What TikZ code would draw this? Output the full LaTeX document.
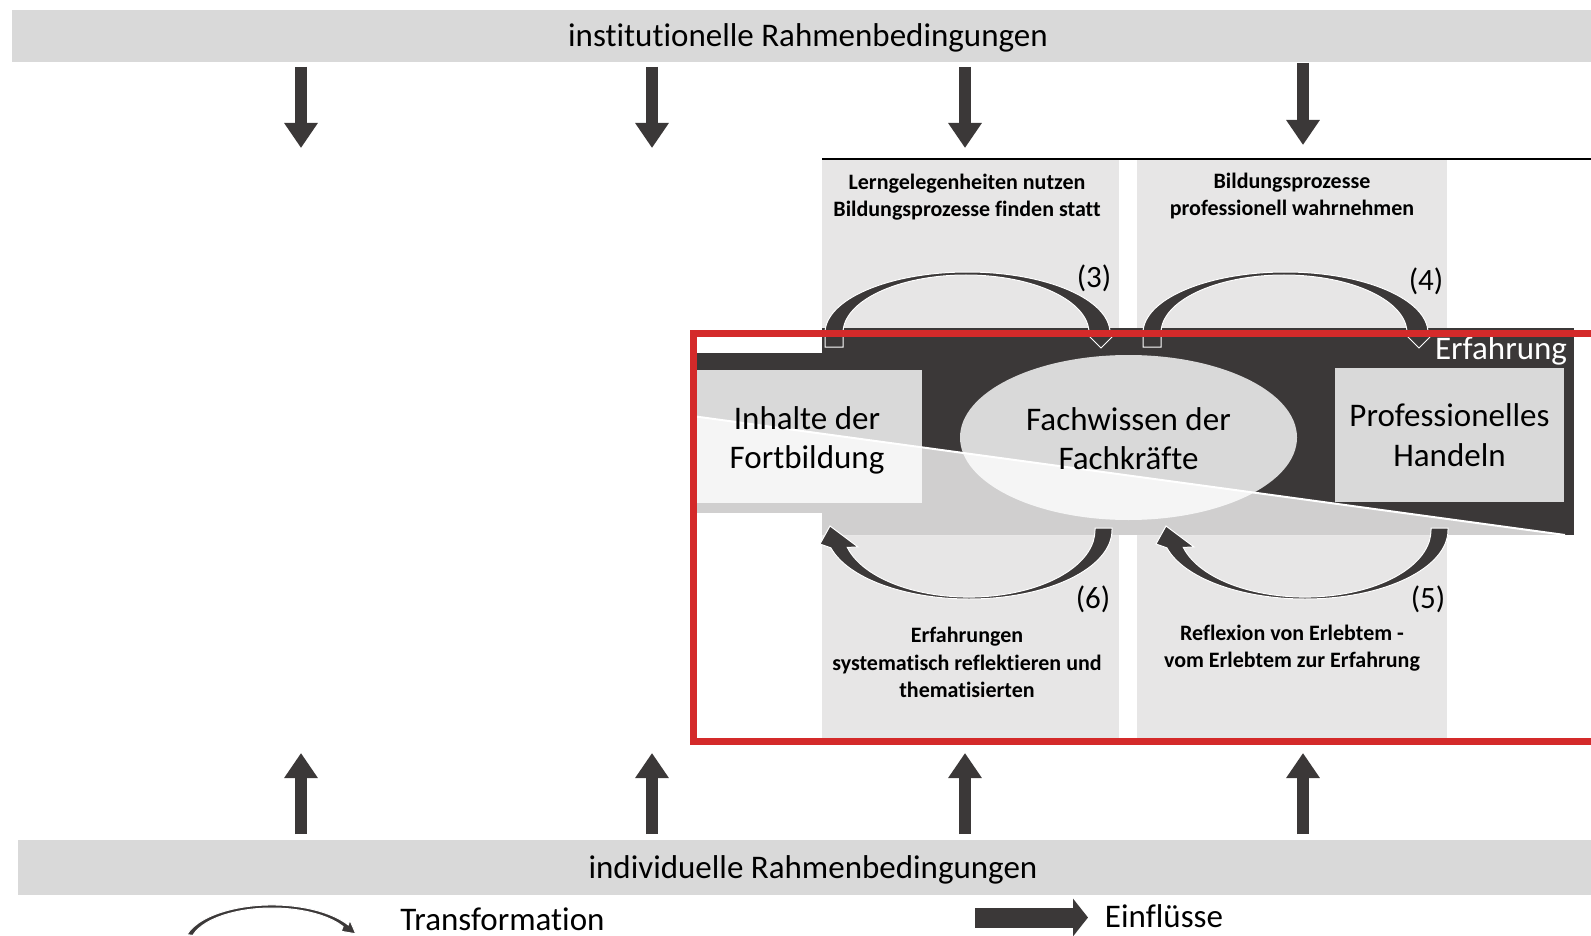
\documentclass[tikz,border=0pt]{standalone}
\usepackage{fontspec}
\setmainfont[Ligatures=NoCommon]{Carlito}
\usetikzlibrary{arrows.meta,shapes.geometric}
\definecolor{dk}{HTML}{3B3838}
\definecolor{bandc}{HTML}{D9D9D9}
\definecolor{panelc}{HTML}{E7E6E6}
\definecolor{boxc}{HTML}{D9D9D9}
\definecolor{redc}{HTML}{D42A2A}
\begin{document}
\begin{tikzpicture}[x=1pt,y=-1pt,
  bandbox/.style={fill=bandc, draw=none, inner sep=0pt, font=\fontsize{33}{39}\selectfont},
  lbl/.style={font=\fontsize{33}{39.5}\selectfont, align=center, inner sep=0pt},
  ptxt/.style={font=\bfseries\fontsize{22}{27.5}\selectfont, align=center, inner sep=0pt},
  num/.style={font=\fontsize{31}{37}\selectfont, inner sep=0pt},
  gbox/.style={fill=boxc, draw=none, inner sep=0pt},
  blockarrow/.style={draw=dk, line width=12pt, -{Triangle[width=32pt,length=25pt]}},
  crescent/.style={fill=dk, draw=white, line width=1pt, line join=miter},
  redline/.style={draw=redc, line width=7pt, line join=miter}
]
\useasboundingbox (0,0) rectangle (1591,936);
\fill[white] (0,0) rectangle (1591,936);

% bands
\node[bandbox, minimum width=1579pt, minimum height=52pt] (inst) at (801.5,36) {\raisebox{-2pt}[\height][\depth]{\hspace*{13pt}institutionelle Rahmenbedingungen}};
\node[bandbox, minimum width=1573pt, minimum height=55pt] (indiv) at (804.5,867.5) {\raisebox{-2pt}[\height][\depth]{\hspace*{17pt}individuelle Rahmenbedingungen}};

% influence arrows
\coordinate (d1s) at (301,67);  \coordinate (d1e) at (301,148);
\coordinate (d2s) at (652,67);  \coordinate (d2e) at (652,148);
\coordinate (d3s) at (965,67);  \coordinate (d3e) at (965,148);
\coordinate (d4s) at (1303,63); \coordinate (d4e) at (1303,145);
\coordinate (u1s) at (301,834); \coordinate (u1e) at (301,753);
\coordinate (u2s) at (652,834); \coordinate (u2e) at (652,753);
\coordinate (u3s) at (965,834); \coordinate (u3e) at (965,753);
\coordinate (u4s) at (1303,834);\coordinate (u4e) at (1303,753);
\foreach \a in {d1,d2,d3,d4,u1,u2,u3,u4}{\draw[blockarrow] (\a s) -- (\a e);}

% black line and panels
\coordinate (hl1) at (822,159); \coordinate (hl2) at (1591,159);
\draw[black, line width=1.5pt] (hl1) -- (hl2);
\fill[panelc] (822,160) rectangle (1119,738);
\fill[panelc] (1137,160) rectangle (1447,738);

% dark band
\fill[dk] (692,353) rectangle (822,513);
\fill[dk] (822,328) rectangle (1574,535);

% boxes
\node[gbox, minimum width=230pt, minimum height=133pt] (inhbox) at (807,436.5) {};
\node[gbox, ellipse, minimum width=337pt, minimum height=165pt] (fachbox) at (1128.5,437.5) {};
\node[gbox, minimum width=229pt, minimum height=134pt] (profbox) at (1449.5,435) {};

% light wedge
\begin{scope}
\clip (692,353) rectangle (822,513) (822,328) rectangle (1574,535);
\fill[white, opacity=0.76] (692,416) -- (1565,535) -- (692,535) -- cycle;
\end{scope}
\draw[white, line width=2pt] (692,416) -- (1565,535);

% texts of boxes
\node[lbl] (inh) at ([yshift=-4pt]inhbox.center) {Inhalte der\\Fortbildung};
\node[lbl] (fach) at ([yshift=-1pt]fachbox.center) {Fachwissen der\\Fachkräfte};
\node[lbl] (prof) at (profbox) {Professionelles\\Handeln};
\node[lbl, text=white, anchor=base] (erf) at (1501,359) {Erfahrung};

% upper curved arrows (3) and (4)
\foreach \s in {0,318}{
  \begin{scope}[xshift=\s pt]
  \path[crescent] (825,347) -- (825,333) arc[start angle=180, end angle=0, x radius=142.5pt, y radius=61pt]
     -- (1089,333) arc[start angle=0, end angle=180, x radius=123pt, y radius=58pt] -- (843,347) -- cycle;
  \path[crescent] (1084,331) -- (1118,331) -- (1101,348) -- cycle;
  \end{scope}
}
% lower curved arrows (6) and (5)
\foreach \s in {0,336}{
  \begin{scope}[xshift=\s pt]
  \path[crescent] (1095,528) -- (1112,528) -- (1112,530) arc[start angle=0, end angle=-165, x radius=143pt, y radius=69pt]
     -- (820,544) -- (830,526) -- (858,547) -- (847.3,547.4)
     arc[start angle=-165, end angle=0, x radius=126pt, y radius=67pt] -- cycle;
  \end{scope}
}

% numbers
\node[num] (n3) at (1094,278) {(3)};
\node[num] (n4) at (1426,281) {(4)};
\node[num] (n6) at (1093,599) {(6)};
\node[num] (n5) at (1428,599) {(5)};

% panel texts
\node[ptxt] (t3) at (967,197) {Lerngelegenheiten nutzen\\Bildungsprozesse finden statt};
\node[ptxt] (t4) at (1292,196) {Bildungsprozesse\\professionell wahrnehmen};
\node[ptxt] (t6) at (967,662.5) {Erfahrungen\\systematisch reflektieren und\\thematisierten};
\node[ptxt] (t5) at (1292,648) {Reflexion von Erlebtem -\\vom Erlebtem zur Erfahrung};

% red frame
\coordinate (r1) at (1597,333.5); \coordinate (r2) at (693.5,333.5);
\coordinate (r3) at (693.5,741);  \coordinate (r4) at (1597,741);
\draw[redline] (r1) -- (r2) -- (r3) -- (r4);

% legend
\path[crescent] (187,934.6) arc[start angle=165, end angle=30, x radius=88pt, y radius=40pt]
   -- (349.9,920.3) -- (355.8,933.8) -- (341.3,931.3) -- (343,926.5)
   arc[start angle=30, end angle=165, x radius=82pt, y radius=37pt] -- cycle;
\node[lbl, anchor=base] (trans) at (502.5,930) {Transformation};
\coordinate (es) at (975,917.5); \coordinate (ee) at (1088,917.5);
\draw[draw=dk, line width=20pt, -{Triangle[width=37pt,length=15pt]}] (es) -- (ee);
\node[lbl, anchor=base] (einf) at (1164,927) {Einflüsse};
\end{tikzpicture}
\end{document}
